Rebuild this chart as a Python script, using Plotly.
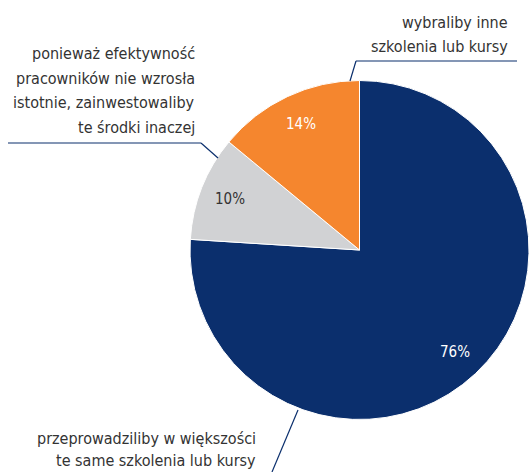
import math
import plotly.graph_objects as go

categories = ["przeprowadziliby w większości|te same szkolenia lub kursy",
              "ponieważ efektywność|pracowników nie wzrosła|istotnie, zainwestowaliby|te środki inaczej",
              "wybraliby inne|szkolenia lub kursy"]
values = [76, 10, 14]
colors = ["#0b2f6d", "#d1d2d4", "#f5862e"]
text_colors = ["#ffffff", "#333333", "#ffffff"]

W, H = 529, 472
FONT = "DejaVu Sans Condensed, Liberation Sans Narrow, sans-serif"

def px(x):
    return x / W

def py(y):
    return 1 - y / H

CX, CY, R = 360, 250, 170

fig = go.Figure(go.Pie(
    values=values,
    labels=[c.replace("|", " ") for c in categories],
    marker=dict(colors=colors, line=dict(color="#ffffff", width=1)),
    direction="clockwise",
    sort=False,
    rotation=0,
    textinfo="none",
    domain=dict(x=[px(CX - R), 1.0], y=[py(CY + R), py(CY - R)]),
    showlegend=False,
    hoverinfo="label+percent",
))

annotations = []
total = sum(values)
cum = 0
for v, tc in zip(values, text_colors):
    mid = (cum + v / 2) / total * 2 * math.pi
    cum += v
    rr = 0.82 * R
    lx = CX + rr * math.sin(mid)
    ly = CY - rr * math.cos(mid)
    annotations.append(dict(text=f"{v}%", x=px(lx), y=py(ly), xref="paper", yref="paper",
                            showarrow=False, xanchor="center", yanchor="middle",
                            font=dict(family=FONT, size=15, color=tc)))

label_pos = [(258, [438, 460]), (197, [53, 78, 103, 128]), (510, [23, 47])]
for cat, (rx, ys) in zip(categories, label_pos):
    for line, yy in zip(cat.split("|"), ys):
        annotations.append(dict(text=line, x=px(rx), y=py(yy), xref="paper", yref="paper",
                                showarrow=False, xanchor="right", yanchor="middle",
                                font=dict(family=FONT, size=16, color="#333333")))

line_style = dict(color="#0b2f6d", width=1.2)
shapes = []
def seg(x0, y0, x1, y1):
    shapes.append(dict(type="line", xref="paper", yref="paper",
                       x0=px(x0), y0=py(y0), x1=px(x1), y1=py(y1), line=line_style))

seg(356, 61, 517, 61)
seg(356, 61, 350, 81)
seg(8, 143, 201, 143)
seg(201, 143, 218, 158)
seg(298, 410, 272, 472)

fig.update_layout(
    width=W, height=H,
    margin=dict(l=0, r=0, t=0, b=0),
    paper_bgcolor="#ffffff",
    plot_bgcolor="#ffffff",
    annotations=annotations,
    shapes=shapes,
)

fig.write_html("out.html",
               config={"displayModeBar": False},
               post_script="document.body.style.margin='0';document.body.style.overflow='hidden';")
